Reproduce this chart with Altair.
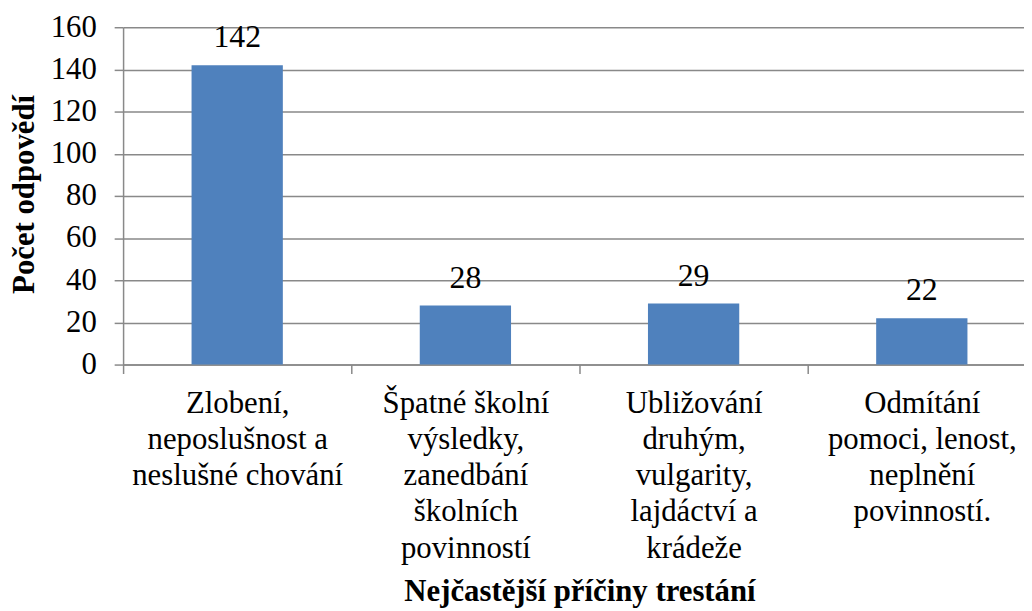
import altair as alt
import pandas as pd

categories = [
    "Zlobení,\nneposlušnost a\nneslušné chování",
    "Špatné školní\nvýsledky,\nzanedbání\nškolních\npovinností",
    "Ubližování\ndruhým,\nvulgarity,\nlajdáctví a\nkrádeže",
    "Odmítání\npomoci, lenost,\nneplnění\npovinností.",
]
values = [142, 28, 29, 22]
y_ticks = [0, 20, 40, 60, 80, 100, 120, 140, 160]

df = pd.DataFrame({"cat": categories, "n": values})

gray = "#898989"
font = "'Liberation Serif', 'Times New Roman', Times, serif"

x = alt.X(
    "cat:N",
    sort=None,
    scale=alt.Scale(range=[0, 920], paddingInner=0, paddingOuter=0),
    axis=alt.Axis(
        title="Nejčastější příčiny trestání",
        labelExpr="split(datum.label, '\\n')",
        labelAngle=0,
        labelFont=font,
        labelFontSize=31,
        labelColor="black",
        labelLineHeight=36.5,
        labelPadding=15,
        labelBaseline="top",
        labelLimit=0,
        tickBand="extent",
        tickSize=9,
        tickColor=gray,
        tickWidth=1.5,
        domainColor=gray,
        domainWidth=1.5,
        grid=False,
        titleFont=font,
        titleFontSize=31,
        titleFontWeight="bold",
        titleColor="black",
        titleBaseline="alphabetic",
        titleY=238,
    ),
)

y = alt.Y(
    "n:Q",
    scale=alt.Scale(domain=[0, 160], nice=False),
    axis=alt.Axis(
        values=y_ticks,
        title="Počet odpovědí",
        grid=True,
        gridColor=gray,
        gridWidth=1.5,
        tickSize=9,
        tickColor=gray,
        tickWidth=1.5,
        domainColor=gray,
        domainWidth=1.5,
        labelFont=font,
        labelFontSize=31,
        labelColor="black",
        labelPadding=18,
        titleFont=font,
        titleFontSize=31,
        titleFontWeight="bold",
        titleColor="black",
        titleAngle=270,
        titleAlign="center",
        titleBaseline="middle",
        titleX=-99,
        titleY=168,
    ),
)

base = alt.Chart(df).encode(x=x, y=y)

bars = base.mark_bar(color="#4F81BD", width={"band": 0.4})
labels = base.mark_text(
    dy=-18, baseline="alphabetic", font=font, fontSize=32, color="black"
).encode(text="n:Q")

chart = (
    (bars + labels)
    .properties(
        width=908,
        height=340,
        autosize=alt.AutoSizeParams(type="none"),
        padding={"left": 116, "top": 17, "right": 0, "bottom": 246},
    )
    .configure_view(stroke=None)
)

chart.save("out.html", embed_options={"renderer": "svg", "actions": False})
